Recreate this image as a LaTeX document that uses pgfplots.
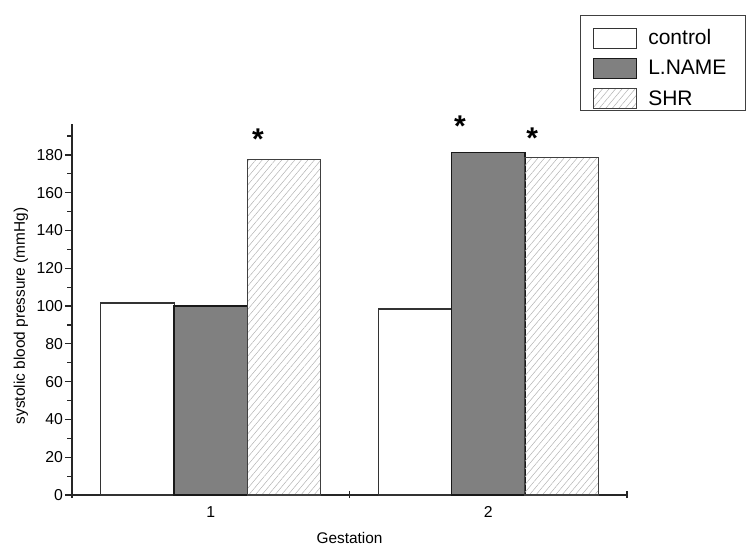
\documentclass[border=0pt]{standalone}
\usepackage{pgfplots}
\pgfplotsset{compat=1.18}
\usepackage{pgfplotstable}
\usepackage{fontspec}
\setmainfont{Liberation Sans}
\usetikzlibrary{patterns.meta}

\pgfplotstableread{
x control lname shr
1 101.6 100.2 177.5
2 98.5 181.4 178.8
}\data

\pgfplotsset{
  boxleg/.style={legend image code/.code={\draw[##1] (0bp,-10bp) rectangle (43bp,10bp);}},
  ctrlleg/.style={legend image code/.code={\path (0bp,20.5bp); \draw[##1] (0bp,-10bp) rectangle (43bp,10bp);}},
}

\begin{document}
\begin{tikzpicture}
\path[use as bounding box] (-72bp,-63bp) rectangle (680bp,495bp);
\begin{axis}[
  scale only axis, width=555bp, height=371bp,
  xmin=0.5, xmax=2.5, ymin=0, ymax=196.4,
  axis x line=bottom, axis y line=left,
  axis line style={-, line width=1.2bp, black!85},
  ybar=0pt, bar width=0.264,
  clip=false,
  tick align=outside, major tick length=7bp, minor tick length=4.5bp,
  xtick={0.5,1.5,2.5}, xticklabels={},
  x tick style={yshift=4bp},
  extra x ticks={1,2}, extra x tick labels={1,2},
  extra x tick style={major tick length=0pt},
  ytick={0,20,...,180}, minor ytick={10,30,...,190},
  tick style={line width=1.2bp, black!85},
  /pgf/number format/assume math mode=true,
  tick label style={font=\fontsize{15.8bp}{18bp}\selectfont},
  xticklabel style={anchor=base, yshift=-22bp},
  yticklabel style={anchor=east, xshift=1.5bp},
  xlabel={Gestation},
  ylabel={systolic blood pressure (mmHg)},
  every axis x label/.style={at={(axis description cs:0.5,-0.132)}, anchor=base, font=\fontsize{15.4bp}{18bp}\selectfont},
  every axis y label/.style={at={(axis description cs:-0.092,0.4825)}, rotate=90, anchor=center, font=\fontsize{15.4bp}{18bp}\selectfont},
  legend style={at={(1.2144,1.2938)}, anchor=north east, draw=black!75, line width=1bp,
    inner xsep=12bp, inner ysep=1.5bp, column sep=11bp, row sep=8.8bp,
    font=\fontsize{21bp}{24bp}\selectfont, nodes={inner sep=0pt}},
  legend cell align=left,
  boxleg,
]
\addplot[fill=white, draw=black!80, line width=1.2bp, ctrlleg]
  table[x=x, y=control] {\data};
\addlegendentry{control}
\addplot[fill=black!50, draw=black!90, line width=1.6bp] table[x=x, y=lname] {\data};
\addlegendentry{L.NAME\hspace*{7bp}}
\addplot[pattern={Lines[angle=50, distance=5bp, line width=0.5bp]}, pattern color=black!30, draw=black!75, line width=1.2bp] table[x=x, y=shr] {\data};
\addlegendentry{SHR}
\node[font=\fontsize{30bp}{30bp}\selectfont\bfseries, yshift=-6.5bp] at (axis cs:1.170,191.6) {*};
\node[font=\fontsize{30bp}{30bp}\selectfont\bfseries, yshift=-6.5bp] at (axis cs:1.898,198.5) {*};
\node[font=\fontsize{30bp}{30bp}\selectfont\bfseries, yshift=-6.5bp] at (axis cs:2.158,192.2) {*};
\end{axis}
\end{tikzpicture}
\end{document}
